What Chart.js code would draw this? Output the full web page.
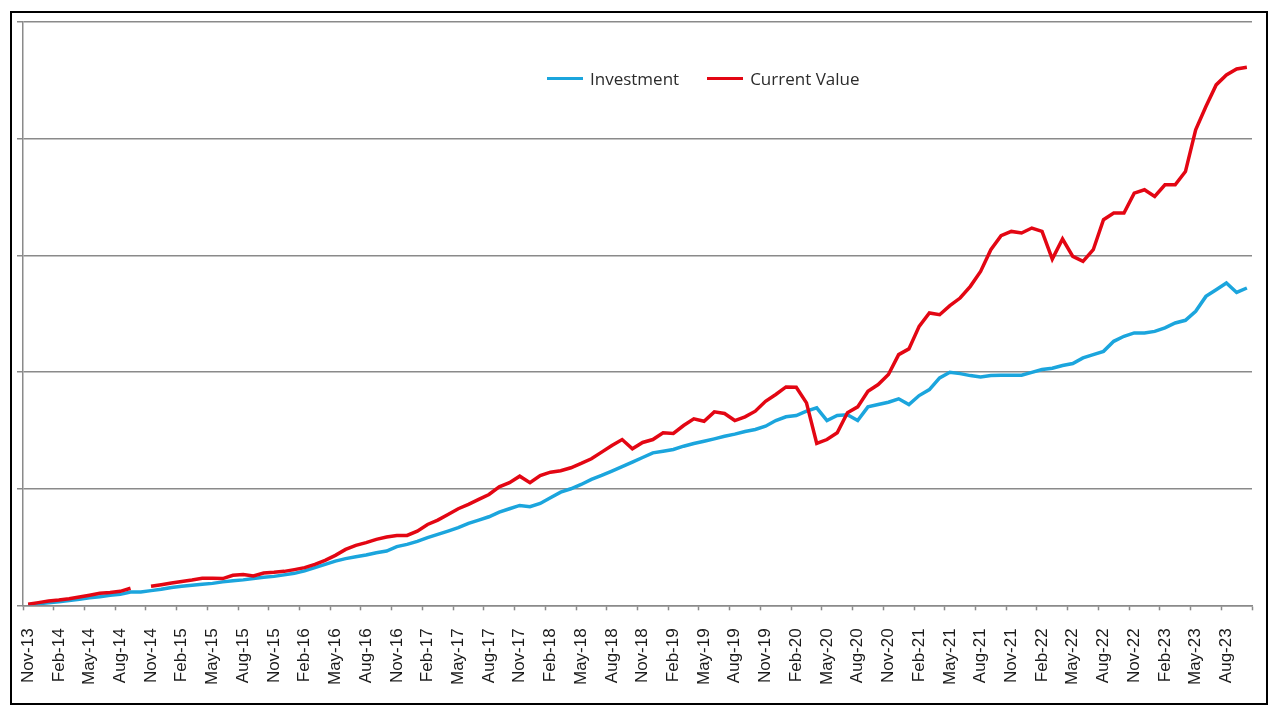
<!DOCTYPE html>
<html>
<head>
<meta charset="utf-8">
<script src="https://cdn.jsdelivr.net/npm/chart.js@4/dist/chart.umd.min.js"></script>
<style>
  html, body { margin: 0; padding: 0; background: #fff; }
  #wrap { position: relative; width: 1280px; height: 720px; }
  #frame { position: absolute; left: 10px; top: 11px; width: 1258px; height: 694px;
           border: 2.5px solid #000; box-sizing: border-box; pointer-events: none; }
  #chart { position: absolute; left: 0; top: 0; }
  #legend { position: absolute; left: 547px; top: 67px; height: 22px; display: flex; align-items: center;
            font: 17px "Open Sans", sans-serif; color: #2b2b2b; white-space: nowrap; }
  #legend .item { display: flex; align-items: center; margin-right: 28px; }
  #legend .swatch { display: inline-block; width: 36px; height: 3px; margin-right: 7px; }
</style>
</head>
<body>
<div id="wrap">
  <canvas id="chart" width="1280" height="720"></canvas>
  <div id="legend"></div>
  <div id="frame"></div>
</div>
<script>
const months = [
  'Nov-13','Dec-13',
  'Jan-14','Feb-14','Mar-14','Apr-14','May-14','Jun-14','Jul-14','Aug-14','Sep-14','Oct-14','Nov-14','Dec-14',
  'Jan-15','Feb-15','Mar-15','Apr-15','May-15','Jun-15','Jul-15','Aug-15','Sep-15','Oct-15','Nov-15','Dec-15',
  'Jan-16','Feb-16','Mar-16','Apr-16','May-16','Jun-16','Jul-16','Aug-16','Sep-16','Oct-16','Nov-16','Dec-16',
  'Jan-17','Feb-17','Mar-17','Apr-17','May-17','Jun-17','Jul-17','Aug-17','Sep-17','Oct-17','Nov-17','Dec-17',
  'Jan-18','Feb-18','Mar-18','Apr-18','May-18','Jun-18','Jul-18','Aug-18','Sep-18','Oct-18','Nov-18','Dec-18',
  'Jan-19','Feb-19','Mar-19','Apr-19','May-19','Jun-19','Jul-19','Aug-19','Sep-19','Oct-19','Nov-19','Dec-19',
  'Jan-20','Feb-20','Mar-20','Apr-20','May-20','Jun-20','Jul-20','Aug-20','Sep-20','Oct-20','Nov-20','Dec-20',
  'Jan-21','Feb-21','Mar-21','Apr-21','May-21','Jun-21','Jul-21','Aug-21','Sep-21','Oct-21','Nov-21','Dec-21',
  'Jan-22','Feb-22','Mar-22','Apr-22','May-22','Jun-22','Jul-22','Aug-22','Sep-22','Oct-22','Nov-22','Dec-22',
  'Jan-23','Feb-23','Mar-23','Apr-23','May-23','Jun-23','Jul-23','Aug-23','Sep-23','Oct-23'
];

// amounts (no units shown on the original axis)
const investment = [
  0.04,0.13,0.21,0.30,0.41,0.51,0.64,0.74,0.86,0.94,1.14,1.14,
  1.26,1.37,1.52,1.63,1.71,1.80,1.88,2.01,2.11,2.18,2.29,2.40,
  2.48,2.61,2.74,2.95,3.23,3.51,3.79,4.00,4.17,4.31,4.51,4.65,
  5.03,5.22,5.48,5.80,6.08,6.36,6.65,7.02,7.30,7.59,7.99,8.28,
  8.56,8.45,8.73,9.22,9.70,9.99,10.36,10.79,11.13,11.50,11.88,12.27,
  12.67,13.07,13.21,13.36,13.64,13.87,14.07,14.27,14.49,14.67,14.90,15.07,
  15.35,15.84,16.16,16.27,16.64,16.93,15.84,16.27,16.33,15.84,17.01,17.21,
  17.41,17.70,17.21,17.98,18.49,19.49,19.97,19.86,19.69,19.58,19.69,19.72,
  19.72,19.72,19.97,20.21,20.32,20.55,20.72,21.21,21.49,21.77,22.63,23.06,
  23.35,23.35,23.48,23.78,24.20,24.43,25.20,26.48,27.05,27.63,26.82,27.20
];

// Oct-14 is missing in the source, hence the null
const currentValue = [
  0.09,0.23,0.37,0.45,0.57,0.71,0.86,1.03,1.09,1.20,1.46,null,
  1.63,1.77,1.91,2.05,2.17,2.31,2.31,2.29,2.57,2.65,2.51,2.77,
  2.83,2.91,3.06,3.23,3.51,3.85,4.28,4.79,5.14,5.37,5.65,5.85,
  5.99,5.99,6.36,6.93,7.30,7.79,8.28,8.65,9.08,9.50,10.16,10.51,
  11.07,10.51,11.13,11.41,11.53,11.79,12.16,12.56,13.13,13.70,14.21,13.42,
  13.96,14.21,14.79,14.73,15.41,15.98,15.78,16.58,16.44,15.84,16.16,16.64,
  17.49,18.07,18.72,18.69,17.35,13.87,14.21,14.79,16.50,17.01,18.35,18.92,
  19.78,21.49,21.98,23.91,25.06,24.91,25.68,26.34,27.34,28.62,30.48,31.68,
  32.05,31.91,32.34,32.05,29.68,31.40,29.91,29.48,30.48,33.05,33.62,33.62,
  35.33,35.62,35.04,36.04,36.04,37.18,40.75,42.75,44.61,45.46,45.98,46.12
];

const gridGrey = '#8a8a8a';

const chart = new Chart(document.getElementById('chart'), {
  type: 'line',
  data: {
    labels: months,
    datasets: [{
      label: 'Investment',
      data: investment,
      borderColor: '#1ba5dd',
      borderWidth: 3.5,
      pointRadius: 0,
      order: 1
    }, {
      label: 'Current Value',
      data: currentValue,
      borderColor: '#e30613',
      borderWidth: 3.5,
      pointRadius: 0,
      spanGaps: false,
      order: 0
    }]
  },
  options: {
    responsive: false,
    animation: false,
    devicePixelRatio: 1,
    layout: { padding: { left: 17, right: 28, top: 22, bottom: 17 } },
    plugins: { legend: { display: false }, tooltip: { enabled: false } },
    scales: {
      x: {
        offset: true,
        // the rotated labels fit inside the frame; let the layout padding decide the edges
        afterFit: s => { s.paddingLeft = 0; s.paddingRight = 0; },
        grid: {
          offset: true,
          drawOnChartArea: false,
          tickLength: 5,
          tickWidth: 1.5,
          tickColor: ctx => (ctx.index === undefined || ctx.index % 3 === 0) ? gridGrey : 'rgba(0,0,0,0)'
        },
        border: { color: gridGrey, width: 1.5 },
        ticks: {
          autoSkip: false,
          minRotation: 90,
          maxRotation: 90,
          padding: 18,
          color: '#1a1a1a',
          font: { family: '"Liberation Sans", Arial, sans-serif', size: 17 },
          callback: (val, i) => i % 3 === 0 ? months[i] : ''
        }
      },
      y: {
        min: 0,
        max: 50,
        grid: { color: gridGrey, lineWidth: 1.5, tickLength: 6 },
        border: { color: gridGrey, width: 1.5 },
        ticks: { display: false, stepSize: 10 }
      }
    }
  }
});

const legend = document.getElementById('legend');
chart.data.datasets.forEach(ds => {
  const item = document.createElement('span');
  item.className = 'item';
  const sw = document.createElement('span');
  sw.className = 'swatch';
  sw.style.background = ds.borderColor;
  item.appendChild(sw);
  item.appendChild(document.createTextNode(ds.label));
  legend.appendChild(item);
});
</script>
</body>
</html>
